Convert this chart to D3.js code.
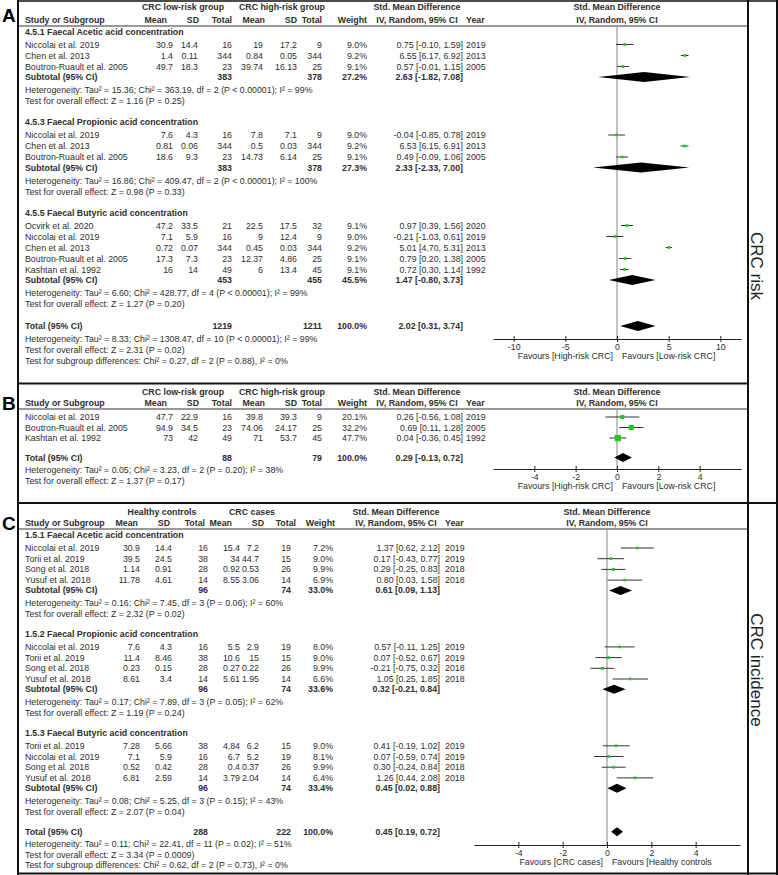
<!DOCTYPE html>
<html>
<head>
<meta charset="utf-8">
<script src="https://cdn.jsdelivr.net/npm/d3@7"></script>
<style>
body { margin: 0; background: #fff; }
svg text { font-family: "Liberation Sans", Arial, sans-serif; font-size: 8.8px; fill: #2e2e2e; }
</style>
</head>
<body>
<div id="chart"></div>
<script>
// study rows: name, mean1, sd1, n1, mean2, sd2, n2, weight %, smd, lower, upper, year
var titlesA = ["4.5.1 Faecal Acetic acid concentration", "4.5.3 Faecal Propionic acid concentration", "4.5.5 Faecal Butyric acid concentration"];
var aAcetic = [
  ["Niccolai et al. 2019", 30.9, 14.4, 16, 19, 17.2, 9, 9.0, 0.75, -0.10, 1.59, 2019],
  ["Chen et al. 2013", 1.4, 0.11, 344, 0.84, 0.05, 344, 9.2, 6.55, 6.17, 6.92, 2013],
  ["Boutron-Ruault et al. 2005", 49.7, 18.3, 23, 39.74, 16.13, 25, 9.1, 0.57, -0.01, 1.15, 2005]
];
var aAceticSub = [383, 378, 27.2, 2.63, -1.82, 7.08];
var aAceticStats = ["Heterogeneity: Tau\u00b2 = 15.36; Chi\u00b2 = 363.19, df = 2 (P < 0.00001); I\u00b2 = 99%", "Test for overall effect: Z = 1.16 (P = 0.25)"];
var aPropionic = [
  ["Niccolai et al. 2019", 7.6, 4.3, 16, 7.8, 7.1, 9, 9.0, -0.04, -0.85, 0.78, 2019],
  ["Chen et al. 2013", 0.81, 0.06, 344, 0.5, 0.03, 344, 9.2, 6.53, 6.15, 6.91, 2013],
  ["Boutron-Ruault et al. 2005", 18.6, 9.3, 23, 14.73, 6.14, 25, 9.1, 0.49, -0.09, 1.06, 2005]
];
var aPropionicSub = [383, 378, 27.3, 2.33, -2.33, 7.00];
var aPropionicStats = ["Heterogeneity: Tau\u00b2 = 16.86; Chi\u00b2 = 409.47, df = 2 (P < 0.00001); I\u00b2 = 100%", "Test for overall effect: Z = 0.98 (P = 0.33)"];
var aButyric = [
  ["Ocvirk et al. 2020", 47.2, 33.5, 21, 22.5, 17.5, 32, 9.1, 0.97, 0.39, 1.56, 2020],
  ["Niccolai et al. 2019", 7.1, 5.9, 16, 9, 12.4, 9, 9.0, -0.21, -1.03, 0.61, 2019],
  ["Chen et al. 2013", 0.72, 0.07, 344, 0.45, 0.03, 344, 9.2, 5.01, 4.70, 5.31, 2013],
  ["Boutron-Ruault et al. 2005", 17.3, 7.3, 23, 12.37, 4.86, 25, 9.1, 0.79, 0.20, 1.38, 2005],
  ["Kashtan et al. 1992", 16, 14, 49, 6, 13.4, 45, 9.1, 0.72, 0.30, 1.14, 1992]
];
var aButyricSub = [453, 455, 45.5, 1.47, -0.80, 3.73];
var aButyricStats = ["Heterogeneity: Tau\u00b2 = 6.60; Chi\u00b2 = 428.77, df = 4 (P < 0.00001); I\u00b2 = 99%", "Test for overall effect: Z = 1.27 (P = 0.20)"];
var aTotal = [1219, 1211, 100.0, 2.02, 0.31, 3.74];
var aTotalStats = ["Heterogeneity: Tau\u00b2 = 8.33; Chi\u00b2 = 1308.47, df = 10 (P < 0.00001); I\u00b2 = 99%", "Test for overall effect: Z = 2.31 (P = 0.02)", "Test for subgroup differences: Chi\u00b2 = 0.27, df = 2 (P = 0.88), I\u00b2 = 0%"];

var bStudies = [
  ["Niccolai et al. 2019", 47.7, 22.9, 16, 39.8, 39.3, 9, 20.1, 0.26, -0.56, 1.08, 2019],
  ["Boutron-Ruault et al. 2005", 94.9, 34.5, 23, 74.06, 24.17, 25, 32.2, 0.69, 0.11, 1.28, 2005],
  ["Kashtan et al. 1992", 73, 42, 49, 71, 53.7, 45, 47.7, 0.04, -0.36, 0.45, 1992]
];
var bTotal = [88, 79, 100.0, 0.29, -0.13, 0.72];
var bTotalStats = ["Heterogeneity: Tau\u00b2 = 0.05; Chi\u00b2 = 3.23, df = 2 (P = 0.20); I\u00b2 = 38%", "Test for overall effect: Z = 1.37 (P = 0.17)"];

var titlesC = ["1.5.1 Faecal Acetic acid concentration", "1.5.2 Faecal Propionic acid concentration", "1.5.3 Faecal Butyric acid concentration"];
var cAcetic = [
  ["Niccolai et al. 2019", 30.9, 14.4, 16, 15.4, 7.2, 19, 7.2, 1.37, 0.62, 2.12, 2019],
  ["Torii et al. 2019", 39.5, 24.5, 38, 34, 44.7, 15, 9.0, 0.17, -0.43, 0.77, 2019],
  ["Song et al. 2018", 1.14, 0.91, 28, 0.92, 0.53, 26, 9.9, 0.29, -0.25, 0.83, 2018],
  ["Yusuf et al. 2018", 11.78, 4.61, 14, 8.55, 3.06, 14, 6.9, 0.80, 0.03, 1.58, 2018]
];
var cAceticSub = [96, 74, 33.0, 0.61, 0.09, 1.13];
var cAceticStats = ["Heterogeneity: Tau\u00b2 = 0.16; Chi\u00b2 = 7.45, df = 3 (P = 0.06); I\u00b2 = 60%", "Test for overall effect: Z = 2.32 (P = 0.02)"];
var cPropionic = [
  ["Niccolai et al. 2019", 7.6, 4.3, 16, 5.5, 2.9, 19, 8.0, 0.57, -0.11, 1.25, 2019],
  ["Torii et al. 2019", 11.4, 8.46, 38, 10.6, 15, 15, 9.0, 0.07, -0.52, 0.67, 2019],
  ["Song et al. 2018", 0.23, 0.15, 28, 0.27, 0.22, 26, 9.9, -0.21, -0.75, 0.32, 2018],
  ["Yusuf et al. 2018", 8.61, 3.4, 14, 5.61, 1.95, 14, 6.6, 1.05, 0.25, 1.85, 2018]
];
var cPropionicSub = [96, 74, 33.6, 0.32, -0.21, 0.84];
var cPropionicStats = ["Heterogeneity: Tau\u00b2 = 0.17; Chi\u00b2 = 7.89, df = 3 (P = 0.05); I\u00b2 = 62%", "Test for overall effect: Z = 1.19 (P = 0.24)"];
var cButyric = [
  ["Torii et al. 2019", 7.28, 5.66, 38, 4.84, 6.2, 15, 9.0, 0.41, -0.19, 1.02, 2019],
  ["Niccolai et al. 2019", 7.1, 5.9, 16, 6.7, 5.2, 19, 8.1, 0.07, -0.59, 0.74, 2019],
  ["Song et al. 2018", 0.52, 0.42, 28, 0.4, 0.37, 26, 9.9, 0.30, -0.24, 0.84, 2018],
  ["Yusuf et al. 2018", 6.81, 2.59, 14, 3.79, 2.04, 14, 6.4, 1.26, 0.44, 2.08, 2018]
];
var cButyricSub = [96, 74, 33.4, 0.45, 0.02, 0.88];
var cButyricStats = ["Heterogeneity: Tau\u00b2 = 0.08; Chi\u00b2 = 5.25, df = 3 (P = 0.15); I\u00b2 = 43%", "Test for overall effect: Z = 2.07 (P = 0.04)"];
var cTotal = [288, 222, 100.0, 0.45, 0.19, 0.72];
var cTotalStats = ["Heterogeneity: Tau\u00b2 = 0.11; Chi\u00b2 = 22.41, df = 11 (P = 0.02); I\u00b2 = 51%", "Test for overall effect: Z = 3.34 (P = 0.0009)", "Test for subgroup differences: Chi\u00b2 = 0.62, df = 2 (P = 0.73), I\u00b2 = 0%"];

var colHeads = ["Mean", "SD", "Total", "Mean", "SD", "Total", "Weight"];
var groupsRisk = ["CRC low-risk group", "CRC high-risk group"];
var groupsInc = ["Healthy controls", "CRC cases"];
var ticksA = [-10, -5, 0, 5, 10];
var ticksB = [-4, -2, 0, 2, 4];
var ticksC = [-4, -2, 0, 2, 4];
var favoursRisk = ["Favours [High-risk CRC]", "Favours [Low-risk CRC]"];
var favoursInc = ["Favours [CRC cases]", "Favours [Healthy controls"];
var panelLetters = ["A", "B", "C"];
var sideLabels = ["CRC risk", "CRC incidence"];

var width = 778, height = 875;
var svg = d3.select("#chart").append("svg")
    .attr("width", width)
    .attr("height", height);

var green = "#1ec81e";
var sizeScale = d3.scaleSqrt().domain([0, 50]).range([0, 6.4]);

function txt(g, s, x, y, anchor, bold) {
  return g.append("text")
    .attr("x", x).attr("y", y).attr("dy", "0.35em")
    .attr("text-anchor", anchor || "start")
    .style("font-weight", bold ? "bold" : null)
    .text(s);
}
function ciText(d) {
  return d[0].toFixed(2) + " [" + d[1].toFixed(2) + ", " + d[2].toFixed(2) + "]";
}

// lay the rows out one after another
function buildRows(p) {
  var rows = [], y = p.y0, prev = null;
  function push(type, d) {
    if (prev) y += p.gap[prev + ">" + type];
    rows.push({type: type, y: y, d: d});
    prev = type;
  }
  p.groups.forEach(function(gr) {
    if (gr.title) push("title", gr.title);
    gr.rows.forEach(function(r) { push("study", r); });
    if (gr.sub) {
      push("sub", gr.sub);
      gr.stats.forEach(function(s) { push("stat", s); });
    }
  });
  push("total", p.total);
  p.totalStats.forEach(function(s) { push("stat", s); });
  return rows;
}

function diamond(g, x, y, d, h) {
  var pts = [[x(d[1]), y], [x(d[0]), y - h], [x(d[2]), y], [x(d[0]), y + h]];
  g.append("polygon").attr("points", pts.map(function(q) { return q.join(","); }).join(" "))
    .attr("fill", "#000");
}

function drawPanel(p) {
  var g = svg.append("g"), L = p.lay, x = p.x;
  var zero = x(0);

  p.groupLabels.forEach(function(s, i) { txt(g, s, L.grp[i], L.h1, "middle", true); });
  txt(g, "Std. Mean Difference", L.smdHead, L.h1, "middle", true);
  txt(g, "Std. Mean Difference", zero, L.h1, "middle", true);
  txt(g, "Study or Subgroup", L.name, L.h2, "start", true);
  colHeads.forEach(function(s, i) { txt(g, s, L.head[i], L.h2, "end", true); });
  txt(g, "IV, Random, 95% CI", L.smdHead, L.h2, "middle", true);
  txt(g, "Year", L.year, L.h2, "start", true);
  txt(g, "IV, Random, 95% CI", zero, L.h2, "middle", true);
  g.append("line").attr("x1", 19).attr("x2", 748).attr("y1", L.line).attr("y2", L.line)
    .attr("stroke", "#333").attr("stroke-width", 1);

  // zero line
  g.append("line").attr("x1", zero).attr("x2", zero).attr("y1", L.line).attr("y2", L.axis)
    .attr("stroke", "#999").attr("stroke-width", 1.2);

  var rows = buildRows(p);
  rows.forEach(function(r) {
    var d = r.d, y = r.y;
    if (r.type === "title") {
      txt(g, d, L.name, y, "start", true);
    } else if (r.type === "stat") {
      txt(g, d, L.name, y, "start", false);
    } else if (r.type === "study") {
      txt(g, d[0], L.name, y, "start");
      d.slice(1, 7).forEach(function(v, i) { txt(g, String(v), L.num[i], y, "end"); });
      txt(g, d[7].toFixed(1) + "%", L.num[6], y, "end");
      txt(g, ciText(d.slice(8, 11)), L.smd, y, "end");
      txt(g, d[11], L.year, y, "start");
      g.append("line").attr("x1", x(d[9])).attr("x2", x(d[10])).attr("y1", y).attr("y2", y)
        .attr("stroke", "#333").attr("stroke-width", 1);
      var s = Math.max(2.6, sizeScale(d[7]));
      g.append("rect").attr("x", x(d[8]) - s / 2).attr("y", y - s / 2)
        .attr("width", s).attr("height", s).attr("fill", green);
    } else {
      txt(g, r.type === "sub" ? "Subtotal (95% CI)" : "Total (95% CI)", L.name, y, "start", true);
      txt(g, String(d[0]), L.num[2], y, "end", true);
      txt(g, String(d[1]), L.num[5], y, "end", true);
      txt(g, d[2].toFixed(1) + "%", L.num[6], y, "end", true);
      txt(g, ciText(d.slice(3, 6)), L.smd, y, "end", true);
      diamond(g, x, y, d.slice(3, 6), p.dh);
    }
  });

  // axis
  var ax = g.append("g").attr("transform", "translate(0," + L.axis + ")")
    .call(d3.axisBottom(x).tickValues(p.ticks).tickSize(0).tickPadding(5)
      .tickFormat(function(v) { return String(v); }));
  ax.select(".domain").attr("stroke", "#222");
  ax.selectAll(".tick line").attr("y1", -3).attr("y2", 3).attr("stroke", "#222");
  ax.selectAll(".tick text").attr("font-size", null).attr("font-family", null).attr("fill", null);
  txt(g, p.favours[0], zero - 4, L.axis + 17, "end");
  txt(g, p.favours[1], zero + 5, L.axis + 17, "start");
}

var layAB = {name: 25, num: [173, 198, 232, 263, 297, 322, 367], head: [167, 199, 232, 265, 297, 322, 367],
             smd: 463, smdHead: 417, year: 466, grp: [183, 282]};
var layC = {name: 25, num: [140, 172, 208, 240, 259, 291, 333], head: [138, 170, 205, 232, 264, 296, 335],
            smd: 440, smdHead: 396, year: 445, grp: [162, 252]};

var panelA = {
  lay: Object.assign({h1: 7, h2: 20, line: 26, axis: 339}, layAB),
  x: d3.scaleLinear().domain([-12, 12]).range([493, 741]),
  ticks: ticksA, favours: favoursRisk, groupLabels: groupsRisk, dh: 5,
  y0: 31.5,
  gap: {"title>study": 13, "study>study": 11, "study>sub": 10.5, "sub>stat": 13, "stat>stat": 11,
        "stat>title": 21, "stat>total": 22, "total>stat": 12.5},
  groups: [
    {title: titlesA[0], rows: aAcetic, sub: aAceticSub, stats: aAceticStats},
    {title: titlesA[1], rows: aPropionic, sub: aPropionicSub, stats: aPropionicStats},
    {title: titlesA[2], rows: aButyric, sub: aButyricSub, stats: aButyricStats}
  ],
  total: aTotal, totalStats: aTotalStats
};
var panelB = {
  lay: Object.assign({h1: 392, h2: 403, line: 409, axis: 469}, layAB),
  x: d3.scaleLinear().domain([-6, 6]).range([493, 741]),
  ticks: ticksB, favours: favoursRisk, groupLabels: groupsRisk, dh: 4.5,
  y0: 417,
  gap: {"study>study": 10.5, "study>total": 19.5, "total>stat": 12.5, "stat>stat": 10.7},
  groups: [{rows: bStudies}],
  total: bTotal, totalStats: bTotalStats
};
var panelC = {
  lay: Object.assign({h1: 512, h2: 523, line: 529, axis: 845}, layC),
  x: d3.scaleLinear().domain([-6, 6]).range([474, 740]),
  ticks: ticksC, favours: favoursInc, groupLabels: groupsInc, dh: 4.5,
  y0: 535,
  gap: {"title>study": 13, "study>study": 10.7, "study>sub": 10.3, "sub>stat": 13, "stat>stat": 10.5,
        "stat>title": 20, "stat>total": 20, "total>stat": 12.5},
  groups: [
    {title: titlesC[0], rows: cAcetic, sub: cAceticSub, stats: cAceticStats},
    {title: titlesC[1], rows: cPropionic, sub: cPropionicSub, stats: cPropionicStats},
    {title: titlesC[2], rows: cButyric, sub: cButyricSub, stats: cButyricStats}
  ],
  total: cTotal, totalStats: cTotalStats
};

[panelA, panelB, panelC].forEach(drawPanel);

// frame
var frame = svg.append("g").attr("stroke", "#111").attr("fill", "none");
frame.append("line").attr("x1", 18).attr("x2", 18).attr("y1", 0).attr("y2", 875).attr("stroke-width", 2);
frame.append("line").attr("x1", 748).attr("x2", 748).attr("y1", 0).attr("y2", 875).attr("stroke-width", 2);
frame.append("line").attr("x1", 777).attr("x2", 777).attr("y1", 0).attr("y2", 875).attr("stroke-width", 2);
frame.append("line").attr("x1", 17).attr("x2", 778).attr("y1", 1).attr("y2", 1).attr("stroke-width", 1.5);
frame.append("line").attr("x1", 17).attr("x2", 778).attr("y1", 873.5).attr("y2", 873.5).attr("stroke-width", 2);
frame.append("line").attr("x1", 17).attr("x2", 748).attr("y1", 383.5).attr("y2", 383.5).attr("stroke-width", 2);
frame.append("line").attr("x1", 17).attr("x2", 778).attr("y1", 503).attr("y2", 503).attr("stroke-width", 2);

// panel letters
[15, 403, 523].forEach(function(y, i) {
  svg.append("text").attr("x", 2).attr("y", y).attr("dy", "0.35em")
    .style("font-size", "19px").style("font-weight", "bold").style("fill", "#000")
    .text(panelLetters[i]);
});

// side labels
[266, 670].forEach(function(y, i) {
  svg.append("text").attr("transform", "translate(757," + y + ") rotate(90)")
    .attr("text-anchor", "middle").attr("dy", "0.35em")
    .style("font-size", "17px").style("fill", "#222")
    .text(sideLabels[i]);
});
</script>
</body>
</html>
